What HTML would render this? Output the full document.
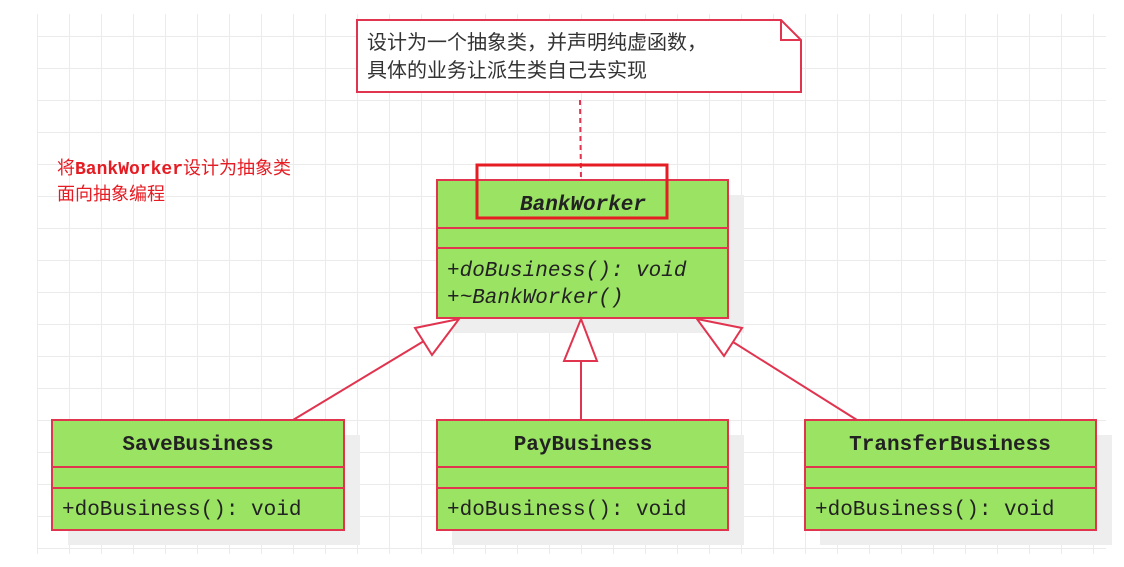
<!DOCTYPE html>
<html><head><meta charset="utf-8"><style>
html,body{margin:0;padding:0;background:#fff;}
svg{display:block;}
</style></head><body>
<svg width="1124" height="567" xmlns="http://www.w3.org/2000/svg">
<defs>
<pattern id="g" x="5" y="4" width="32" height="32" patternUnits="userSpaceOnUse">
<path d="M0 0.5H32M0.5 0V32" stroke="#ebebeb" stroke-width="1" fill="none"/>
</pattern>
</defs>
<rect x="37" y="14" width="1069" height="540" fill="url(#g)"/>
<!-- note -->
<path d="M357 20H781L801 40V92H357Z" fill="#fff" stroke="#e0344f" stroke-width="2"/>
<path d="M781 20V40H801" fill="none" stroke="#e0344f" stroke-width="2"/>
<text x="367" y="49" font-family="Liberation Sans, Noto Sans CJK SC, sans-serif" font-size="20" fill="#333">设计为一个抽象类，并声明纯虚函数，</text>
<text x="367" y="77" font-family="Liberation Sans, Noto Sans CJK SC, sans-serif" font-size="20" fill="#333">具体的业务让派生类自己去实现</text>
<line x1="580" y1="100" x2="581" y2="180" stroke="#e0344f" stroke-width="2" stroke-dasharray="5,4"/>
<text x="57" y="174" font-family="Liberation Mono, Noto Sans CJK SC, monospace" font-size="18" fill="#e51c23">将<tspan font-weight="bold">BankWorker</tspan>设计为抽象类</text>
<text x="57" y="200" font-family="Liberation Sans, Noto Sans CJK SC, sans-serif" font-size="18" fill="#e51c23">面向抽象编程</text>
<!-- shadows -->
<rect x="452" y="195" width="292" height="138" fill="#eee"/>
<rect x="68" y="435" width="292" height="110" fill="#eee"/>
<rect x="452" y="435" width="292" height="110" fill="#eee"/>
<rect x="820" y="435" width="292" height="110" fill="#eee"/>
<g fill="#9be362" stroke="#e0344f" stroke-width="2">
<rect x="437" y="180" width="291" height="138"/>
<line x1="437" y1="228" x2="728" y2="228"/><line x1="437" y1="248" x2="728" y2="248"/>
<rect x="52" y="420" width="292" height="110"/>
<line x1="52" y1="467" x2="344" y2="467"/><line x1="52" y1="488" x2="344" y2="488"/>
<rect x="437" y="420" width="291" height="110"/>
<line x1="437" y1="467" x2="728" y2="467"/><line x1="437" y1="488" x2="728" y2="488"/>
<rect x="805" y="420" width="291" height="110"/>
<line x1="805" y1="467" x2="1096" y2="467"/><line x1="805" y1="488" x2="1096" y2="488"/>
</g>
<g font-family="Liberation Mono, monospace" font-size="21" fill="#222">
<text x="583" y="210" text-anchor="middle" font-weight="bold" font-style="italic">BankWorker</text>
<text x="447" y="276" font-style="italic">+doBusiness(): void</text>
<text x="447" y="303" font-style="italic">+~BankWorker()</text>
<text x="198" y="450" text-anchor="middle" font-weight="bold">SaveBusiness</text>
<text x="62" y="515">+doBusiness(): void</text>
<text x="583" y="450" text-anchor="middle" font-weight="bold">PayBusiness</text>
<text x="447" y="515">+doBusiness(): void</text>
<text x="950" y="450" text-anchor="middle" font-weight="bold">TransferBusiness</text>
<text x="815" y="515">+doBusiness(): void</text>
</g>
<rect x="477" y="165" width="190" height="53" fill="none" stroke="#e51c23" stroke-width="3"/>
<!-- arrows -->
<g stroke="#e0344f" stroke-width="2" fill="#fff">
<line x1="581" y1="361" x2="581" y2="420"/>
<path d="M581 319L597 361H564Z"/>
<line x1="424" y1="341" x2="293" y2="420"/>
<path d="M459 319L415 328L432 355Z"/>
<line x1="733" y1="342" x2="857" y2="420"/>
<path d="M697 319L742 328L724 356Z"/>
</g>
</svg>
</body></html>
